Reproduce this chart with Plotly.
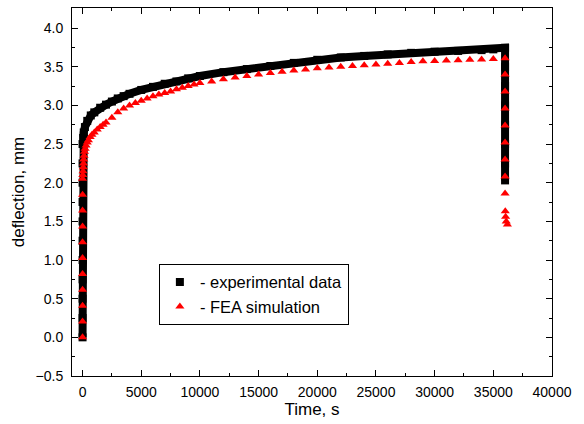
import plotly.graph_objects as go

# Experimental data (time s, deflection mm)
exp_t = [0, 0, 0, 0, 0, 0, 0, 0, 0, 0, 0,
         50, 100, 200, 400, 700, 1000, 1500, 2000, 2500, 3000, 3500, 4000,
         5000, 6000, 7000, 8000, 9000, 10000, 12000, 14000, 16000, 18000,
         20000, 22000, 24000, 26000, 28000, 30000, 32000, 34000, 35000, 36000,
         36000, 36000, 36000, 36000, 36000, 36000, 36000]
exp_y = [0.0, 0.25, 0.5, 0.75, 1.0, 1.25, 1.5, 1.75, 2.0, 2.25, 2.5,
         2.58, 2.65, 2.72, 2.80, 2.87, 2.91, 2.97, 3.01, 3.05, 3.09, 3.12, 3.15,
         3.20, 3.24, 3.28, 3.31, 3.35, 3.38, 3.43, 3.47, 3.51, 3.55,
         3.59, 3.62, 3.64, 3.66, 3.68, 3.695, 3.705, 3.715, 3.725, 3.745,
         3.5, 3.25, 3.0, 2.75, 2.5, 2.25, 2.03]

# FEA simulation (time s, deflection mm)
fea_t = [0, 0, 0, 0, 0, 0, 0, 0, 0, 0, 0,
         20, 40, 60, 80, 100, 130, 170, 220, 300, 400, 500, 650, 800, 1000,
         1250, 1500, 1750, 2000, 2500, 3000, 3500, 4000, 4500, 5000, 5500,
         6000, 6500, 7000, 7500, 8000, 8500, 9000, 9500, 10000,
         11000, 12000, 13000, 14000, 15000, 16000, 17000, 18000, 19000, 20000,
         21000, 22000, 23000, 24000, 25000, 26000, 27000, 28000, 29000, 30000,
         31000, 32000, 33000, 34000, 35000, 36000,
         36000, 36000, 36000, 36000, 36000, 36000, 36000, 36000,
         36020, 36050, 36100, 36200]
fea_y = [0.0, 0.205, 0.41, 0.615, 0.82, 1.025, 1.23, 1.435, 1.64, 1.845, 2.05,
         2.10, 2.15, 2.20, 2.25, 2.30, 2.35, 2.40, 2.44, 2.48, 2.52, 2.55, 2.59, 2.62, 2.65,
         2.69, 2.72, 2.75, 2.78, 2.84, 2.91, 2.96, 3.00, 3.03, 3.06, 3.09,
         3.12, 3.14, 3.16, 3.18, 3.21, 3.23, 3.25, 3.27, 3.29,
         3.31, 3.34, 3.36, 3.38, 3.40, 3.42, 3.435, 3.45, 3.465, 3.48,
         3.49, 3.50, 3.51, 3.52, 3.53, 3.54, 3.55, 3.56, 3.57, 3.575,
         3.58, 3.585, 3.59, 3.595, 3.60, 3.61,
         3.40, 3.18, 2.96, 2.74, 2.52, 2.30, 2.08, 1.86,
         1.63, 1.56, 1.50, 1.46]

x_ticks = [0, 5000, 10000, 15000, 20000, 25000, 30000, 35000, 40000]
y_ticks = [-0.5, 0.0, 0.5, 1.0, 1.5, 2.0, 2.5, 3.0, 3.5, 4.0]

FONT = "Liberation Sans, Arial, sans-serif"

fig = go.Figure()
fig.add_trace(go.Scatter(x=exp_t, y=exp_y, mode="lines",
                         line=dict(color="black", width=8),
                         showlegend=False, hoverinfo="skip"))
fig.add_trace(go.Scatter(x=exp_t, y=exp_y, mode="markers",
                         name="- experimental data",
                         marker=dict(symbol="square", size=8, color="black")))
fig.add_trace(go.Scatter(x=fea_t, y=fea_y, mode="markers",
                         name="- FEA simulation",
                         marker=dict(symbol="triangle-up", size=8, color="#ff0000")))

axis_common = dict(
    showline=True, linecolor="black", linewidth=1, mirror="ticks",
    ticks="inside", ticklen=6, tickwidth=1, tickcolor="black",
    showgrid=False, zeroline=False, automargin=False,
    tickfont=dict(family=FONT, size=14, color="black"),
)

fig.update_layout(
    width=584, height=424,
    margin=dict(l=72, r=32, t=8, b=48),
    paper_bgcolor="white", plot_bgcolor="white",
    font=dict(family=FONT, color="black"),
    xaxis=dict(range=[-900, 40000], tickvals=x_ticks, tickformat="d",
               minor=dict(ticks="inside", ticklen=3, tickcolor="black", dtick=2500, tick0=0),
               title=dict(text="Time, s", font=dict(family=FONT, size=17), standoff=4),
               ticklabelstandoff=3,
               **axis_common),
    yaxis=dict(range=[-0.5, 4.26], tickvals=y_ticks, tickformat=".1f",
               minor=dict(ticks="inside", ticklen=3, tickcolor="black", dtick=0.25, tick0=0),
               title=dict(text="deflection, mm", font=dict(family=FONT, size=17), standoff=6),
               ticklabelstandoff=5,
               **axis_common),
    legend=dict(x=0.181, y=0.305, xanchor="left", yanchor="top",
                bgcolor="white", bordercolor="black", borderwidth=1,
                font=dict(family=FONT, size=16.5, color="black"),
                tracegroupgap=0),
)

fig.write_html("out.html", config={"displayModeBar": False},
               post_script="document.body.style.margin='0';")
